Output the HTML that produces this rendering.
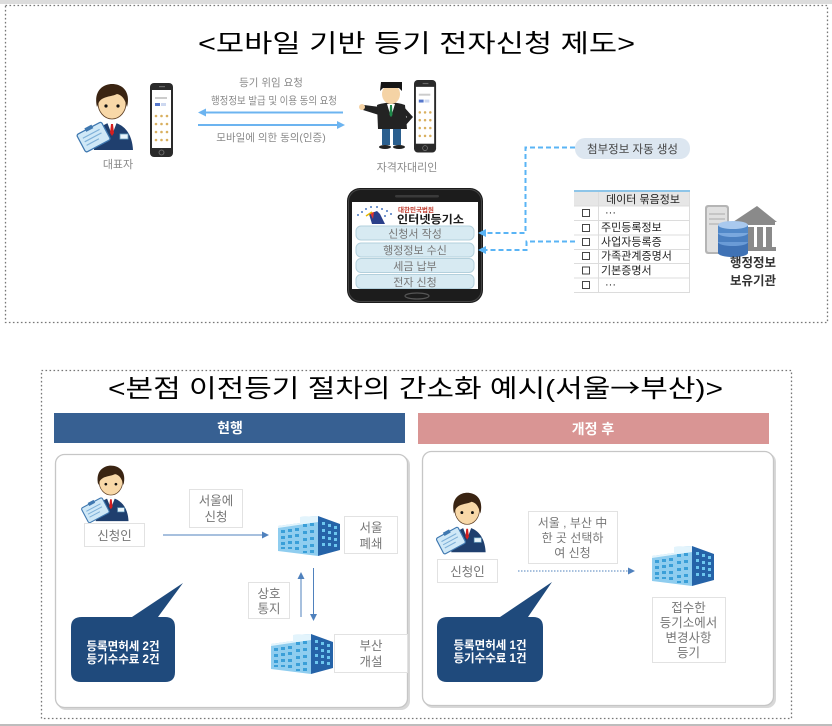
<!DOCTYPE html>
<html><head><meta charset="utf-8">
<style>
html,body{margin:0;padding:0;background:#fff;}
svg{display:block;}
text{font-family:"Liberation Sans","Noto Sans CJK KR",sans-serif;}
</style></head>
<body>
<svg width="832" height="726" viewBox="0 0 832 726" xmlns="http://www.w3.org/2000/svg">
<defs>
  <g id="person">
    <path d="M14 68 C14 50 21 42 32 40 C43 42 52 50 53 68 Z" fill="#1f3f6e"/>
    <path d="M27 40 L32 53 L37 40 Z" fill="#fff"/>
    <path d="M31 42 h2 l1 9 -2 3 -2 -3 Z" fill="#d41e1e"/>
    <rect x="40" y="52" width="8" height="5" fill="#e8f4fa" stroke="#6aa0c0" stroke-width="0.8"/>
    <g transform="rotate(-28 14 56)">
      <rect x="0" y="45" width="28" height="20" rx="2" fill="#cfe8f7" stroke="#3f78b0" stroke-width="1.3"/>
      <path d="M4 51h19M4 55h19M4 59h14" stroke="#7fb0d8" stroke-width="1.2"/>
      <rect x="10" y="43" width="8" height="4" fill="#3f78b0"/>
    </g>
    <ellipse cx="32" cy="21" rx="14" ry="16" fill="#f8d8a8" stroke="#5a3b20" stroke-width="0.8"/>
    <path d="M17 25 C13 8 24 2 32 2 C42 2 51 9 47 25 C45 17 42 13 37 12 C31 15 23 14 19 20 Z" fill="#3a2412"/>
    <circle cx="26" cy="24" r="1.6" fill="#111"/>
    <circle cx="38" cy="24" r="1.6" fill="#111"/>
  </g>
  <g id="bldg">
    <polygon points="0,10 22,7 22,1 40,0 40,40 0,35" fill="#8fcdef"/>
    <polygon points="0,10 22,7 22,1 40,0 40,6 0,12" fill="#e3f4fc"/>
    <polygon points="40,0 62,8 62,34 40,40" fill="#2563a8"/>
    <g fill="#3a9fd8">
      <rect x="3" y="14" width="4" height="3"/><rect x="10" y="13" width="4" height="3"/><rect x="17" y="12" width="4" height="3"/><rect x="25" y="8" width="4" height="3"/><rect x="32" y="7" width="4" height="3"/>
      <rect x="3" y="20" width="4" height="3"/><rect x="10" y="19" width="4" height="3"/><rect x="17" y="18" width="4" height="3"/><rect x="25" y="15" width="4" height="3"/><rect x="32" y="14" width="4" height="3"/>
      <rect x="3" y="26" width="4" height="3"/><rect x="10" y="25" width="4" height="3"/><rect x="17" y="25" width="4" height="3"/><rect x="25" y="22" width="4" height="3"/><rect x="32" y="21" width="4" height="3"/>
      <rect x="3" y="31" width="4" height="2"/><rect x="10" y="31" width="4" height="2"/><rect x="17" y="31" width="4" height="3"/><rect x="25" y="29" width="4" height="3"/><rect x="32" y="28" width="4" height="3"/>
      <rect x="25" y="35" width="4" height="2"/><rect x="32" y="34" width="4" height="3"/>
    </g>
    <g fill="#6cc6ee">
      <rect x="44" y="6" width="3" height="3"/><rect x="50" y="8" width="3" height="3"/><rect x="56" y="10" width="3" height="3"/>
      <rect x="44" y="13" width="3" height="3"/><rect x="50" y="15" width="3" height="3"/><rect x="56" y="16" width="3" height="3"/>
      <rect x="44" y="20" width="3" height="3"/><rect x="50" y="21" width="3" height="3"/><rect x="56" y="22" width="3" height="3"/>
      <rect x="44" y="27" width="3" height="3"/><rect x="50" y="27" width="3" height="3"/><rect x="56" y="28" width="3" height="3"/>
    </g>
  </g>
  <g id="sphone">
    <rect x="0" y="0" width="23" height="74" rx="4" fill="#2a2a2a"/>
    <rect x="2" y="7" width="19" height="58" fill="#fff"/>
    <rect x="9" y="3" width="6" height="1.2" fill="#666"/>
    <rect x="5" y="14" width="12" height="2" fill="#ccc"/>
    <rect x="5" y="20" width="5" height="3" fill="#5577cc"/>
    <rect x="11" y="20" width="5" height="3" fill="#cdd8f0"/>
    <g fill="#d9b060">
      <circle cx="6" cy="33" r="1.3"/><circle cx="11.5" cy="33" r="1.3"/><circle cx="17" cy="33" r="1.3"/>
      <circle cx="6" cy="41" r="1.3"/><circle cx="11.5" cy="41" r="1.3"/><circle cx="17" cy="41" r="1.3"/>
      <circle cx="6" cy="49" r="1.3"/><circle cx="11.5" cy="49" r="1.3"/><circle cx="17" cy="49" r="1.3"/>
      <circle cx="6" cy="57" r="1.3"/><circle cx="11.5" cy="57" r="1.3"/><circle cx="17" cy="57" r="1.3"/>
    </g>
    <circle cx="11.5" cy="69.5" r="2.5" fill="none" stroke="#777" stroke-width="0.8"/>
  </g>
  <marker id="ahb" markerWidth="8" markerHeight="8" refX="6" refY="4" orient="auto" markerUnits="userSpaceOnUse">
    <path d="M0 0 L8 4 L0 8 Z" fill="#6cb4f0"/>
  </marker>
  <marker id="ahd" markerWidth="8" markerHeight="8" refX="6" refY="4" orient="auto" markerUnits="userSpaceOnUse">
    <path d="M0 0 L8 4 L0 8 Z" fill="#5ab4f5"/>
  </marker>
  <marker id="ahn" markerWidth="7" markerHeight="7" refX="6" refY="3.5" orient="auto" markerUnits="userSpaceOnUse">
    <path d="M0 0 L7 3.5 L0 7 Z" fill="#4f81bd"/>
  </marker>
</defs>

<!-- frame bars -->
<rect x="0" y="0" width="832" height="4" fill="#dcdcdc"/>
<rect x="0" y="724" width="832" height="2" fill="#bdbdbd"/>

<!-- dotted boxes -->
<rect x="5.5" y="5.5" width="822" height="317" fill="none" stroke="#777" stroke-width="1.3" stroke-dasharray="1.6 2.4"/>
<rect x="41.5" y="370.5" width="750" height="348" fill="none" stroke="#777" stroke-width="1.3" stroke-dasharray="1.6 2.4"/>

<!-- ===== TOP SECTION ===== -->
<text x="198" y="52" font-size="25" textLength="437" lengthAdjust="spacingAndGlyphs" fill="#000">&lt;모바일 기반 등기 전자신청 제도&gt;</text>

<use href="#person" transform="translate(80 82)"/>
<use href="#sphone" transform="translate(150 83)"/>
<text x="118" y="168" font-size="11" fill="#8a8a8a" text-anchor="middle">대표자</text>

<text x="271" y="86" font-size="10.5" fill="#8a8a8a" text-anchor="middle">등기 위임 요청</text>
<text x="211" y="104" font-size="10.5" fill="#8a8a8a" textLength="126" lengthAdjust="spacingAndGlyphs">행정정보 발급 및 이용 동의 요청</text>
<line x1="343" y1="112.5" x2="200" y2="112.5" stroke="#6cb4f0" stroke-width="2" marker-end="url(#ahb)"/>
<line x1="198" y1="125" x2="343" y2="125" stroke="#6cb4f0" stroke-width="2" marker-end="url(#ahb)"/>
<text x="271" y="141" font-size="10.5" fill="#8a8a8a" text-anchor="middle">모바일에 의한 동의(인증)</text>

<!-- agent -->
<g transform="translate(358 81)">
  <path d="M22 26 L6 24 L5 29 L21 34 Z" fill="#222"/>
  <circle cx="4" cy="26" r="3" fill="#f5d3a5"/>
  <path d="M46 26 L55 36 L47 45 L44 40 L49 36 L44 31 Z" fill="#222"/>
  <rect x="24" y="46" width="8" height="18" fill="#2b5f8e"/>
  <rect x="35" y="46" width="8" height="18" fill="#2b5f8e"/>
  <path d="M19 24 Q33 19 47 24 L49 48 L20 48 Z" fill="#232323"/>
  <path d="M29 23 L33 36 L37 23 Z" fill="#fff"/>
  <path d="M32 24 h2 l0.5 10 -1.5 2 -1.5 -2 Z" fill="#1f8a4a"/>
  <ellipse cx="33" cy="13" rx="9" ry="10" fill="#f5d3a5"/>
  <path d="M22 10 L23 1 L44 1 L44 10 L41 7 L25 7 Z" fill="#151515"/>
  <ellipse cx="27" cy="66" rx="6" ry="2" fill="#222"/>
  <ellipse cx="41" cy="66" rx="6" ry="2" fill="#222"/>
</g>
<use href="#sphone" transform="translate(414 80) scale(0.96 0.98)"/>
<text x="407" y="171" font-size="11" fill="#8a8a8a" text-anchor="middle">자격자대리인</text>

<!-- big phone -->
<rect x="347" y="188" width="136" height="115" rx="13" fill="#1c1c1c"/>
<rect x="348.5" y="189.5" width="133" height="112" rx="12" fill="none" stroke="#444" stroke-width="1"/>
<rect x="395" y="195" width="44" height="2.5" rx="1.2" fill="#3a3a3a"/>
<rect x="352" y="202" width="126" height="87" fill="#fff"/>
<ellipse cx="417" cy="296" rx="12" ry="3" fill="none" stroke="#555" stroke-width="1.2"/>
<!-- logo -->
<g>
  <g fill="#4a78c0">
    <circle cx="362" cy="212" r="1"/><circle cx="366" cy="209" r="1"/><circle cx="371" cy="207" r="1"/><circle cx="377" cy="207" r="1"/><circle cx="382" cy="209" r="1"/><circle cx="387" cy="211" r="1"/><circle cx="391" cy="214" r="1"/><circle cx="358" cy="215" r="1"/><circle cx="385" cy="216" r="1"/>
  </g>
  <path d="M369 214 L377 211 L380 214 L385 224 L372 224 Z" fill="#2a3f8a"/>
  <path d="M370 213 L374 212 L373 219 Z" fill="#d33"/>
  <path d="M366 216 L372 212" stroke="#e6b800" stroke-width="1.5"/>
</g>
<text x="398" y="212" font-size="6.5" fill="#c0392b" font-weight="bold">대한민국법원</text>
<text x="397" y="223" font-size="11" fill="#1a1a1a" font-weight="bold" textLength="67" lengthAdjust="spacingAndGlyphs">인터넷등기소</text>
<g fill="#d7eaf2" stroke="#b3d0dc" stroke-width="1">
  <rect x="356" y="226" width="118" height="14" rx="5"/>
  <rect x="356" y="243" width="118" height="14" rx="5"/>
  <rect x="356" y="258.5" width="118" height="14" rx="5"/>
  <rect x="356" y="274.5" width="118" height="14" rx="5"/>
</g>
<g font-size="11" fill="#777" text-anchor="middle">
  <text x="415" y="237.5">신청서 작성</text>
  <text x="415" y="254">행정정보 수신</text>
  <text x="415" y="270">세금 납부</text>
  <text x="415" y="286">전자 신청</text>
</g>

<!-- dashed connectors -->
<path d="M575 147.5 H525.5 V233 H480" fill="none" stroke="#5ab4f5" stroke-width="2" stroke-dasharray="5 3" marker-end="url(#ahd)"/>
<path d="M575 241.5 H526.5 V250 H480" fill="none" stroke="#5ab4f5" stroke-width="2" stroke-dasharray="5 3" marker-end="url(#ahd)"/>

<!-- pill -->
<rect x="575" y="138" width="115" height="21" rx="10" fill="#dce6f0"/>
<text x="632.5" y="153" font-size="11.5" fill="#444" text-anchor="middle">첨부정보 자동 생성</text>

<!-- table -->
<rect x="574" y="192" width="116" height="14" fill="#e6e6e6"/>
<line x1="574" y1="191" x2="690" y2="191" stroke="#8ec5e8" stroke-width="2"/>
<g stroke="#dcdcdc" stroke-width="1">
  <line x1="574" y1="206" x2="690" y2="206"/>
  <line x1="574" y1="220.5" x2="690" y2="220.5"/>
  <line x1="574" y1="235" x2="690" y2="235"/>
  <line x1="574" y1="249.5" x2="690" y2="249.5"/>
  <line x1="574" y1="263.5" x2="690" y2="263.5"/>
  <line x1="574" y1="278" x2="690" y2="278"/>
  <line x1="574" y1="292.5" x2="690" y2="292.5"/>
  <line x1="598.5" y1="192" x2="598.5" y2="292"/>
  <line x1="689.5" y1="192" x2="689.5" y2="292"/>
</g>
<text x="643" y="203" font-size="11" fill="#222" text-anchor="middle">데이터 묶음정보</text>
<g fill="#fff" stroke="#333" stroke-width="0.9">
  <rect x="582.5" y="209.5" width="7" height="7"/>
  <rect x="582.5" y="224.5" width="7" height="7"/>
  <rect x="582.5" y="238.5" width="7" height="7"/>
  <rect x="582.5" y="252.5" width="7" height="7"/>
  <rect x="582.5" y="267" width="7" height="7"/>
  <rect x="582.5" y="281.5" width="7" height="7"/>
</g>
<g font-size="11" fill="#222">
  <text x="605" y="216">···</text>
  <text x="601" y="231">주민등록정보</text>
  <text x="601" y="245.5">사업자등록증</text>
  <text x="601" y="259.5">가족관계증명서</text>
  <text x="601" y="274">기본증명서</text>
  <text x="605" y="288">···</text>
</g>

<!-- server / institution icon -->
<rect x="705" y="205" width="24" height="49" rx="3" fill="#b5b5b5"/>
<rect x="707" y="207" width="20" height="45" rx="2" fill="#e0e0e0"/>
<g stroke="#aaa" stroke-width="1"><line x1="709" y1="214" x2="725" y2="214"/><line x1="709" y1="219" x2="725" y2="219"/><line x1="709" y1="224" x2="725" y2="224"/></g>
<polygon points="733,222 757,206 777,222" fill="#8a8a8a"/>
<rect x="735" y="222" width="40" height="3" fill="#8a8a8a"/>
<g fill="#8a8a8a"><rect x="748" y="227" width="6" height="20"/><rect x="757" y="227" width="6" height="20"/><rect x="766" y="227" width="6" height="20"/></g>
<rect x="735" y="247" width="41" height="4" fill="#8a8a8a"/>
<g>
  <rect x="718" y="242" width="30" height="11" fill="#3f72b5"/><ellipse cx="733" cy="253" rx="15" ry="4" fill="#3f72b5"/><ellipse cx="733" cy="242" rx="15" ry="4" fill="#6a9bd6"/>
  <rect x="718" y="233" width="30" height="9" fill="#4a7fc0"/><ellipse cx="733" cy="233" rx="15" ry="4" fill="#7aa8de"/>
  <rect x="718" y="225" width="30" height="8" fill="#5188c8"/><ellipse cx="733" cy="225" rx="15" ry="4" fill="#a9c9ee"/>
</g>
<text x="753" y="267" font-size="12.5" font-weight="bold" fill="#333" text-anchor="middle">행정정보</text>
<text x="753" y="285" font-size="12.5" font-weight="bold" fill="#333" text-anchor="middle">보유기관</text>

<!-- ===== BOTTOM SECTION ===== -->
<text x="108" y="397" font-size="25" textLength="615" lengthAdjust="spacingAndGlyphs" fill="#000">&lt;본점 이전등기 절차의 간소화 예시(서울<tspan font-family="'Noto Sans CJK KR',sans-serif">→</tspan>부산)&gt;</text>

<rect x="54" y="413" width="351" height="30" fill="#376092"/>
<text x="230" y="433" font-size="14" font-weight="bold" fill="#fff" text-anchor="middle">현행</text>
<rect x="418" y="413" width="351" height="31" fill="#d99594"/>
<text x="593" y="434" font-size="14" font-weight="bold" fill="#fff" text-anchor="middle">개정 후</text>

<!-- panels -->
<rect x="57" y="456" width="353" height="254" rx="9" fill="#d8d8d8"/>
<rect x="55.5" y="454.5" width="352" height="253" rx="9" fill="#fff" stroke="#c6c6c6" stroke-width="1.3"/>
<rect x="424" y="453" width="352" height="255" rx="9" fill="#d8d8d8"/>
<rect x="422.5" y="451.5" width="351" height="254" rx="9" fill="#fff" stroke="#c6c6c6" stroke-width="1.3"/>

<!-- left panel contents -->
<use href="#person" transform="translate(84 464) scale(0.84)"/>
<g fill="#fff" stroke="#e2e2e2" stroke-width="1">
  <rect x="84.5" y="523.5" width="60" height="23"/>
  <rect x="189.5" y="489.5" width="53" height="38"/>
  <rect x="344.5" y="516.5" width="53" height="37"/>
  <rect x="248.5" y="582.5" width="41" height="36"/>
  <rect x="334.5" y="634.5" width="73" height="38"/>
</g>
<g font-size="12.5" fill="#777" text-anchor="middle">
  <text x="114.5" y="540">신청인</text>
  <text x="216" y="505">서울에</text>
  <text x="216" y="521">신청</text>
  <text x="371" y="532">서울</text>
  <text x="371" y="548">폐쇄</text>
  <text x="269" y="598">상호</text>
  <text x="269" y="613">통지</text>
  <text x="371" y="650">부산</text>
  <text x="371" y="666">개설</text>
</g>
<line x1="163" y1="535" x2="268" y2="535" stroke="#4f81bd" stroke-width="1" marker-end="url(#ahn)"/>
<use href="#bldg" transform="translate(278 516)"/>
<line x1="301" y1="617" x2="301" y2="573" stroke="#4f81bd" stroke-width="1" marker-end="url(#ahn)"/>
<line x1="313.5" y1="568" x2="313.5" y2="620" stroke="#4f81bd" stroke-width="1" marker-end="url(#ahn)"/>
<use href="#bldg" transform="translate(271 634)"/>

<path d="M82 617 H132 L183 583 L158 617 H165 Q175 617 175 627 V672 Q175 682 165 682 H81 Q71 682 71 672 V627 Q71 617 82 617 Z" fill="#1f4a7c"/>
<text x="123" y="650" font-size="11.5" font-weight="bold" fill="#fff" text-anchor="middle">등록면허세 2건</text>
<text x="123" y="663" font-size="11.5" font-weight="bold" fill="#fff" text-anchor="middle">등기수수료 2건</text>

<!-- right panel contents -->
<use href="#person" transform="translate(439 491) scale(0.88 0.9)"/>
<g fill="#fff" stroke="#e2e2e2" stroke-width="1">
  <rect x="437.5" y="559.5" width="60" height="23"/>
  <rect x="528.5" y="511.5" width="89" height="52"/>
  <rect x="652.5" y="597.5" width="73" height="65"/>
</g>
<g font-size="12.5" fill="#777" text-anchor="middle">
  <text x="467.5" y="576">신청인</text>
  <text x="572.5" y="527" font-size="12">서울 , 부산 中</text>
  <text x="572.5" y="542" font-size="12">한 곳 선택하</text>
  <text x="572.5" y="557" font-size="12">여 신청</text>
  <text x="688.5" y="612">접수한</text>
  <text x="688.5" y="627">등기소에서</text>
  <text x="688.5" y="642">변경사항</text>
  <text x="688.5" y="657">등기</text>
</g>
<line x1="518" y1="571" x2="634" y2="571" stroke="#4f81bd" stroke-width="1" stroke-dasharray="1.5 1.5" marker-end="url(#ahn)"/>
<use href="#bldg" transform="translate(652 546)"/>

<path d="M448 617 H500 L552 582 L528 617 H533 Q543 617 543 627 V672 Q543 682 533 682 H447 Q437 682 437 672 V627 Q437 617 448 617 Z" fill="#1f4a7c"/>
<text x="490" y="649" font-size="11.5" font-weight="bold" fill="#fff" text-anchor="middle">등록면허세 1건</text>
<text x="490" y="662" font-size="11.5" font-weight="bold" fill="#fff" text-anchor="middle">등기수수료 1건</text>
</svg>
</body></html>
